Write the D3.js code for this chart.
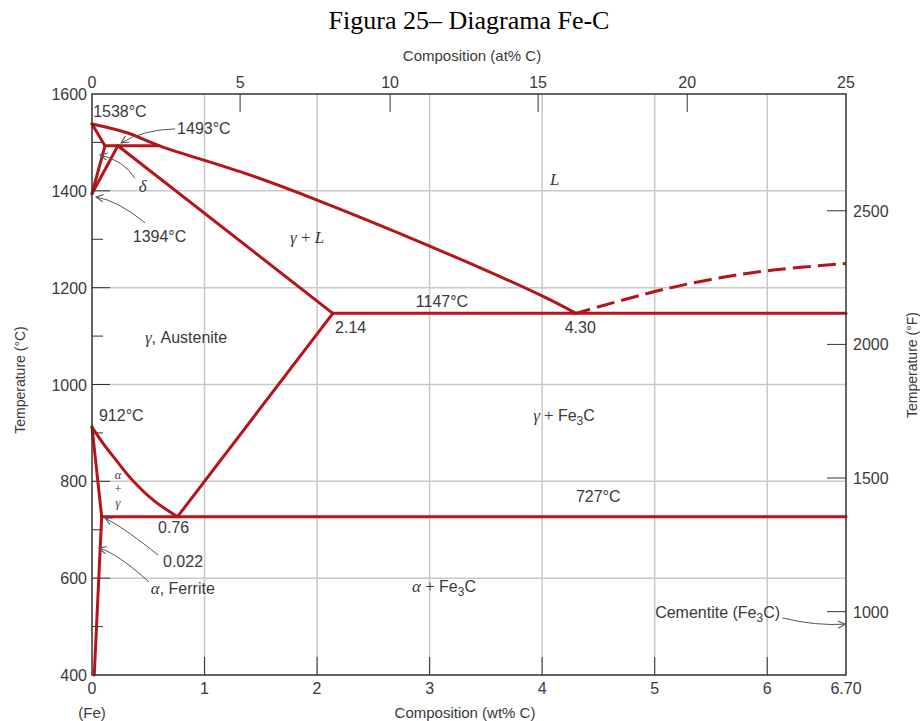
<!DOCTYPE html>
<html>
<head>
<meta charset="utf-8">
<script src="https://cdn.jsdelivr.net/npm/d3@7"></script>
<style>
    body { margin: 0; background: #fff; }
    text { font-family: "Liberation Sans", Arial, sans-serif; fill: #3a3a3a; }
    .greek { font-family: "Liberation Serif", "Times New Roman", serif; font-style: italic; }
</style>
</head>
<body>
<svg id="chart" width="920" height="721"></svg>
<script>
// axis ticks
var wtTicks = [0, 1, 2, 3, 4, 5, 6, 6.70];
var wtTickLabels = ['0', '1', '2', '3', '4', '5', '6', '6.70'];
var atTicks = [0, 5, 10, 15, 20, 25];
var atTickWt = [0, 1.316, 2.649, 3.964, 5.289, 6.70];   // where the at% ticks sit on the wt% axis
var tempCMajor = [400, 600, 800, 1000, 1200, 1400, 1600];
var tempCMinor = [500, 700, 900, 1100, 1300, 1500];
var tempFTicks = [1000, 1500, 2000, 2500];
var tempFDomain = [763, 2937];

// phase boundaries [wt% C, degC]
var liquidus = [[0, 1538], [0.31, 1520], [0.6, 1493], [1.4, 1433], [2.0, 1381], [3.0, 1286], [4.0, 1183], [4.3, 1147]];
var liquidusFe3C = [[4.3, 1147], [5.0, 1192], [5.5, 1217], [6.0, 1235], [6.7, 1250]];
var deltaBound = [[0, 1538], [0.115, 1493], [0, 1394]];
var deltaGamma = [[0, 1394], [0.23, 1493]];
var peritectic = [[0.115, 1493], [0.6, 1493]];
var solidus = [[0.23, 1493], [2.14, 1147]];
var eutectic = [[2.14, 1147], [6.70, 1147]];
var acm = [[2.14, 1147], [0.76, 727]];
var a3 = [[0, 912], [0.1, 878], [0.2, 848], [0.364, 801], [0.55, 760], [0.76, 727]];
var eutectoid = [[0.086, 727], [6.70, 727]];
var alphaUpper = [[0, 912], [0.086, 727]];
var alphaLower = [[0.086, 727], [0.02, 400]];

// labels: text, wt%, degC, anchor
var plainLabels = [
    ['1538°C', 0.01, 1552, 'start'],
    ['1493°C', 0.756, 1517, 'start'],
    ['1394°C', 0.362, 1295, 'start'],
    ['1147°C', 3.11, 1161, 'middle'],
    ['2.14', 2.16, 1106, 'start'],
    ['4.30', 4.2, 1106, 'start'],
    ['912°C', 0.062, 925, 'start'],
    ['0.76', 0.587, 693, 'start'],
    ['0.022', 0.631, 623, 'start'],
    ['727°C', 4.30, 757, 'start']
];
// arrows: from, control, to (wt%, degC)
var arrows = [
    [[0.738, 1528], [0.453, 1526], [0.258, 1499]],
    [[0.382, 1426], [0.276, 1464], [0.071, 1474]],
    [[0.471, 1334], [0.222, 1381], [0.036, 1387]],
    [[0.587, 648], [0.276, 706], [0.116, 724]],
    [[0.507, 592], [0.222, 652], [0.062, 662]],
    [[6.133, 518], [6.427, 501], [6.693, 505]]
];

var red = '#b5141d';
var grid = '#c9c9cc';
var ink = '#333';

var svg = d3.select('#chart');
svg.append('rect').attr('width', 920).attr('height', 721).attr('fill', '#fff');

var x = d3.scaleLinear().domain([0, 6.70]).range([92, 846]);
var y = d3.scaleLinear().domain([400, 1600]).range([675, 94]);
var yF = d3.scaleLinear().domain(tempFDomain).range([675, 94]);

var defs = svg.append('defs');
defs.append('marker')
    .attr('id', 'arrowhead')
    .attr('viewBox', '0 0 10 10')
    .attr('refX', 9).attr('refY', 5)
    .attr('markerWidth', 9).attr('markerHeight', 9)
    .attr('markerUnits', 'userSpaceOnUse')
    .attr('orient', 'auto')
    .append('path')
    .attr('d', 'M1,1 L9,5 L1,9')
    .attr('fill', 'none')
    .attr('stroke', '#555')
    .attr('stroke-width', 1.2);

// title
svg.append('text')
    .attr('x', 469).attr('y', 29)
    .attr('text-anchor', 'middle')
    .style('font-family', '"Liberation Serif", "Times New Roman", serif')
    .style('font-size', '26px')
    .style('fill', '#000')
    .text('Figura 25– Diagrama Fe-C');

// grid
var g = svg.append('g');
g.selectAll('line.vgrid').data([1, 2, 3, 4, 5, 6]).enter().append('line')
    .attr('class', 'vgrid')
    .attr('x1', function(d) { return x(d); }).attr('x2', function(d) { return x(d); })
    .attr('y1', y(1600)).attr('y2', y(400))
    .attr('stroke', grid).attr('stroke-width', 1.5);
g.selectAll('line.hgrid').data([600, 800, 1000, 1200, 1400]).enter().append('line')
    .attr('class', 'hgrid')
    .attr('x1', x(0)).attr('x2', x(6.70))
    .attr('y1', function(d) { return y(d); }).attr('y2', function(d) { return y(d); })
    .attr('stroke', grid).attr('stroke-width', 1.5);

// ticks (inward)
g.selectAll('line.ctick').data(tempCMajor.slice(1, -1)).enter().append('line')
    .attr('x1', x(0)).attr('x2', x(0) + 18)
    .attr('y1', function(d) { return y(d); }).attr('y2', function(d) { return y(d); })
    .attr('stroke', ink).attr('stroke-width', 1);
g.selectAll('line.cminor').data(tempCMinor).enter().append('line')
    .attr('x1', x(0)).attr('x2', x(0) + 11)
    .attr('y1', function(d) { return y(d); }).attr('y2', function(d) { return y(d); })
    .attr('stroke', ink).attr('stroke-width', 1);
g.selectAll('line.wtick').data(wtTicks.slice(1, -1)).enter().append('line')
    .attr('x1', function(d) { return x(d); }).attr('x2', function(d) { return x(d); })
    .attr('y1', y(400)).attr('y2', y(400) - 18)
    .attr('stroke', ink).attr('stroke-width', 1);
g.selectAll('line.attick').data(atTickWt.slice(1, -1)).enter().append('line')
    .attr('x1', function(d) { return x(d); }).attr('x2', function(d) { return x(d); })
    .attr('y1', y(1600)).attr('y2', y(1600) + 18)
    .attr('stroke', ink).attr('stroke-width', 1);
g.selectAll('line.ftick').data(tempFTicks).enter().append('line')
    .attr('x1', x(6.70) - 19).attr('x2', x(6.70))
    .attr('y1', function(d) { return yF(d); }).attr('y2', function(d) { return yF(d); })
    .attr('stroke', ink).attr('stroke-width', 1);

// tick labels
g.selectAll('text.clab').data(tempCMajor).enter().append('text')
    .attr('x', x(0) - 5).attr('y', function(d) { return y(d) + 6; })
    .attr('text-anchor', 'end')
    .style('font-size', '16px')
    .text(function(d) { return d; });
g.selectAll('text.wlab').data(wtTicks).enter().append('text')
    .attr('x', function(d) { return x(d); }).attr('y', y(400) + 19)
    .attr('text-anchor', 'middle')
    .style('font-size', '16px')
    .text(function(d, i) { return wtTickLabels[i]; });
g.selectAll('text.alab').data(atTicks).enter().append('text')
    .attr('x', function(d, i) { return x(atTickWt[i]); }).attr('y', y(1600) - 6)
    .attr('text-anchor', 'middle')
    .style('font-size', '16px')
    .text(function(d) { return d; });
g.selectAll('text.flab').data(tempFTicks).enter().append('text')
    .attr('x', x(6.70) + 7).attr('y', function(d) { return yF(d) + 6; })
    .style('font-size', '16px')
    .text(function(d) { return d; });

// axis titles
svg.append('text').attr('x', 472).attr('y', 61).attr('text-anchor', 'middle')
    .style('font-size', '15px').text('Composition (at% C)');
svg.append('text').attr('x', 465).attr('y', 718).attr('text-anchor', 'middle')
    .style('font-size', '15px').text('Composition (wt% C)');
svg.append('text').attr('x', x(0)).attr('y', 718).attr('text-anchor', 'middle')
    .style('font-size', '15px').text('(Fe)');
svg.append('text').attr('transform', 'translate(25,380) rotate(-90)').attr('text-anchor', 'middle')
    .style('font-size', '14px').text('Temperature (°C)');
svg.append('text').attr('transform', 'translate(917,365) rotate(-90)').attr('text-anchor', 'middle')
    .style('font-size', '14px').text('Temperature (°F)');

// phase lines
var line = d3.line().x(function(d) { return x(d[0]); }).y(function(d) { return y(d[1]); });
var smooth = d3.line().x(function(d) { return x(d[0]); }).y(function(d) { return y(d[1]); }).curve(d3.curveCatmullRom.alpha(0.5));

var p = svg.append('g').attr('fill', 'none').attr('stroke', red).attr('stroke-width', 3)
    .attr('stroke-linejoin', 'round').attr('stroke-linecap', 'round');
[deltaBound, deltaGamma, peritectic, solidus, eutectic, acm, eutectoid, alphaUpper, alphaLower].forEach(function(d) {
    p.append('path').attr('d', line(d));
});
p.append('path').attr('d', smooth(liquidus));
p.append('path').attr('d', smooth(a3));
p.append('path').attr('d', smooth(liquidusFe3C))
    .attr('stroke-linecap', 'butt')
    .attr('stroke-dasharray', '18,7')
    .attr('stroke-dashoffset', 3);

// frame
svg.append('rect')
    .attr('x', x(0)).attr('y', y(1600))
    .attr('width', x(6.70) - x(0)).attr('height', y(400) - y(1600))
    .attr('fill', 'none').attr('stroke', ink).attr('stroke-width', 1.5);

// arrows
svg.append('g').selectAll('path').data(arrows).enter().append('path')
    .attr('d', function(d) {
        return 'M' + x(d[0][0]) + ',' + y(d[0][1]) +
            ' Q' + x(d[1][0]) + ',' + y(d[1][1]) + ' ' + x(d[2][0]) + ',' + y(d[2][1]);
    })
    .attr('fill', 'none').attr('stroke', '#555').attr('stroke-width', 1)
    .attr('marker-end', 'url(#arrowhead)');

// labels
var lab = svg.append('g').style('font-size', '16px');
lab.selectAll('text.plain').data(plainLabels).enter().append('text')
    .attr('x', function(d) { return x(d[1]); }).attr('y', function(d) { return y(d[2]); })
    .attr('text-anchor', function(d) { return d[3]; })
    .text(function(d) { return d[0]; });

function greek(txt, wt, t, size) {
    return lab.append('text').attr('class', 'greek')
        .attr('x', x(wt)).attr('y', y(t))
        .style('font-size', (size || 17) + 'px')
        .text(txt);
}
greek('δ', 0.415, 1398);
greek('L', 4.07, 1412);

var gl = greek('γ', 1.76, 1293);
gl.append('tspan').style('font-style', 'normal').text(' + ');
gl.append('tspan').text('L');

var ga = greek('γ', 0.47, 1086);
ga.append('tspan').style('font-family', '"Liberation Sans", Arial, sans-serif').style('font-style', 'normal')
    .style('font-size', '16px').text(', Austenite');

var af = greek('α', 0.522, 567);
af.append('tspan').style('font-family', '"Liberation Sans", Arial, sans-serif').style('font-style', 'normal')
    .style('font-size', '16px').text(', Ferrite');

// stacked alpha + gamma
greek('α', 0.231, 804, 12.5).attr('text-anchor', 'middle');
lab.append('text').attr('x', x(0.231)).attr('y', y(775)).attr('text-anchor', 'middle')
    .style('font-family', '"Liberation Serif", serif').style('font-size', '12.5px').text('+');
greek('γ', 0.231, 746, 12.5).attr('text-anchor', 'middle');

function fe3c(prefix, wt, t) {
    var el = greek(prefix, wt, t);
    if (prefix) {
        el.append('tspan').style('font-style', 'normal').text(' + ');
    }
    var s = el.append('tspan').style('font-family', '"Liberation Sans", Arial, sans-serif')
        .style('font-style', 'normal').style('font-size', '16px');
    s.append('tspan').text('Fe');
    s.append('tspan').attr('dy', 4).style('font-size', '12px').text('3');
    s.append('tspan').attr('dy', -4).text('C');
    return el;
}
fe3c('γ', 3.92, 925);
fe3c('α', 2.844, 572);

var cem = lab.append('text').attr('x', x(5.004)).attr('y', y(518));
cem.append('tspan').text('Cementite (Fe');
cem.append('tspan').attr('dy', 4).style('font-size', '12px').text('3');
cem.append('tspan').attr('dy', -4).text('C)');
</script>
</body>
</html>
